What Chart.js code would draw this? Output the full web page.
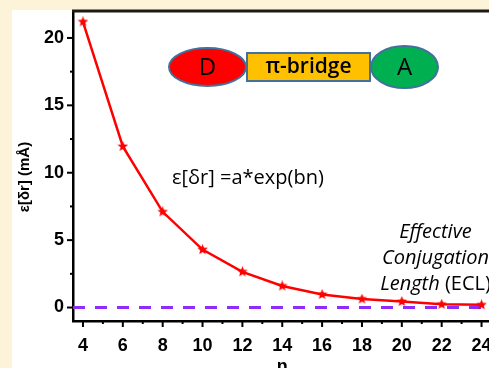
<!DOCTYPE html>
<html><head><meta charset="utf-8">
<script src="https://cdn.jsdelivr.net/npm/chart.js@4"></script>
<style>
html,body{margin:0;padding:0;overflow:hidden;background:#fdf3d8;width:489px;height:368px;}
#panel{position:absolute;left:12px;top:10px;width:477px;height:358px;background:#fff;}
#wrap{position:absolute;left:0;top:0;width:500px;height:380px;}
</style></head><body>
<div id="panel"></div>
<div id="wrap"><canvas id="c" width="500" height="380"></canvas></div>
<script>
// ---- data ----
const nValues   = [4, 6, 8, 10, 12, 14, 16, 18, 20, 22, 24];
const epsValues = [21.2, 11.95, 7.1, 4.3, 2.65, 1.6, 0.97, 0.63, 0.45, 0.24, 0.2];
const xTickValues = [4, 6, 8, 10, 12, 14, 16, 18, 20, 22, 24];
const xMinorTicks = [5, 7, 9, 11, 13, 15, 17, 19, 21, 23];
const yTickValues = [0, 5, 10, 15, 20];
const yMinorTicks = [2.5, 7.5, 12.5, 17.5];
const xRange = [3.5, 24.5];
const yRange = [-1, 22];
const baselineValue = 0;
const yTitle = 'ε[δr] (mÅ)';
const xTitle = 'n';
const formulaText = 'ε[δr] =a*exp(bn)';
const eclLines = ['Effective', 'Conjugation', 'Length'];
const eclSuffix = ' (ECL)';
const diagramLabels = ['D', 'π-bridge', 'A'];

// star marker
function makeStar(size, color) {
  const c = document.createElement('canvas');
  c.width = size; c.height = size;
  const g = c.getContext('2d');
  const cx = size / 2, cy = size / 2, R = size / 2, r = R * 0.45;
  g.beginPath();
  for (let i = 0; i < 10; i++) {
    const a = -Math.PI / 2 + i * Math.PI / 5;
    const rad = i % 2 === 0 ? R : r;
    g.lineTo(cx + rad * Math.cos(a), cy + rad * Math.sin(a));
  }
  g.closePath();
  g.fillStyle = color; g.fill();
  return c;
}
const star = makeStar(11, '#ff0000');

const decor = {
  id: 'decor',
  afterDraw(chart) {
    const ctx = chart.ctx, xs = chart.scales.x, ys = chart.scales.y, a = chart.chartArea;
    ctx.save();
    // top frame
    ctx.strokeStyle = '#1a1a1a'; ctx.lineWidth = 3;
    ctx.beginPath(); ctx.moveTo(a.left - 1, a.top); ctx.lineTo(a.right + 10, a.top); ctx.stroke();
    // ticks
    ctx.strokeStyle = '#000'; ctx.lineWidth = 2;
    const b = a.bottom, l = a.left;
    xTickValues.forEach(v => { const p = xs.getPixelForValue(v); ctx.beginPath(); ctx.moveTo(p, b); ctx.lineTo(p, b + 6); ctx.stroke(); });
    xMinorTicks.forEach(v => { const p = xs.getPixelForValue(v); ctx.beginPath(); ctx.moveTo(p, b); ctx.lineTo(p, b + 3); ctx.stroke(); });
    yTickValues.forEach(v => { const p = ys.getPixelForValue(v); ctx.beginPath(); ctx.moveTo(l, p); ctx.lineTo(l - 6, p); ctx.stroke(); });
    yMinorTicks.forEach(v => { const p = ys.getPixelForValue(v); ctx.beginPath(); ctx.moveTo(l, p); ctx.lineTo(l - 3, p); ctx.stroke(); });
    // y title
    ctx.save();
    ctx.translate(25, 177); ctx.rotate(-Math.PI / 2);
    ctx.font = 'bold 15px "Liberation Sans", Arial, sans-serif';
    ctx.fillStyle = '#000'; ctx.textAlign = 'center'; ctx.textBaseline = 'middle';
    ctx.fillText(yTitle, 0, 0);
    ctx.restore();
    // diagram
    ctx.lineWidth = 2; ctx.strokeStyle = '#41719c';
    ctx.fillStyle = '#ff0000';
    ctx.beginPath(); ctx.ellipse(207.5, 67, 38.5, 19, 0, 0, Math.PI * 2); ctx.fill(); ctx.stroke();
    ctx.fillStyle = '#00b050';
    ctx.beginPath(); ctx.ellipse(404.5, 67, 33.5, 21, 0, 0, Math.PI * 2); ctx.fill(); ctx.stroke();
    ctx.fillStyle = '#ffc000';
    ctx.fillRect(247, 53, 123, 28); ctx.strokeRect(247, 53, 123, 28);
    ctx.fillStyle = '#000'; ctx.textAlign = 'center'; ctx.textBaseline = 'middle';
    ctx.font = '500 24px "Open Sans", sans-serif';
    ctx.fillText(diagramLabels[0], 207.5, 68);
    ctx.fillText(diagramLabels[2], 404.5, 68);
    ctx.font = '600 21px "Open Sans", sans-serif';
    ctx.fillText(diagramLabels[1], 308.5, 67);
    // formula
    ctx.textAlign = 'left';
    ctx.font = '20px "Open Sans", sans-serif';
    ctx.fillText(formulaText, 172, 178);
    // ECL
    ctx.textAlign = 'center';
    const it = 'italic 20px "Open Sans", sans-serif', nf = '20px "Open Sans", sans-serif';
    ctx.font = it;
    ctx.fillText(eclLines[0], 435.5, 232);
    ctx.fillText(eclLines[1], 435.5, 258);
    const w1 = ctx.measureText(eclLines[2]).width;
    ctx.font = nf; const w2 = ctx.measureText(eclSuffix).width;
    const x0 = 435.5 - (w1 + w2) / 2;
    ctx.textAlign = 'left';
    ctx.font = it; ctx.fillText(eclLines[2], x0, 284);
    ctx.font = nf; ctx.fillText(eclSuffix, x0 + w1, 284);
    ctx.restore();
  }
};

new Chart(document.getElementById('c'), {
  type: 'line',
  data: {
    datasets: [
      {
        data: nValues.map((n, i) => ({ x: n, y: epsValues[i] })),
        borderColor: '#ff0000', backgroundColor: '#ff0000', borderWidth: 2.5,
        pointStyle: star, pointRadius: 6, tension: 0, order: 0
      },
      {
        data: xRange.map(x => ({ x: x, y: baselineValue })),
        borderColor: '#8f2bff', borderWidth: 3, borderDash: [12, 10],
        pointRadius: 0, order: 1
      }
    ]
  },
  options: {
    responsive: false, animation: false, devicePixelRatio: 1,
    layout: { padding: { left: 0, top: 11, right: 5, bottom: 0 } },
    plugins: { legend: { display: false }, tooltip: { enabled: false } },
    scales: {
      x: {
        type: 'linear', min: xRange[0], max: xRange[1],
        afterBuildTicks: s => { s.ticks = xTickValues.map(v => ({ value: v })); },
        afterFit: s => { s.height = 59; s.paddingLeft = 0; s.paddingRight = 0; },
        grid: { display: false, drawTicks: false },
        border: { display: true, color: '#000', width: 2.5 },
        ticks: { color: '#000', padding: 14, maxRotation: 0, font: { family: '"Liberation Sans", Arial, sans-serif', weight: 'bold', size: 18 } },
        title: { display: true, text: xTitle, color: '#000', padding: { top: 0, bottom: 2 }, font: { family: '"Liberation Sans", Arial, sans-serif', weight: 'bold', size: 18 } }
      },
      y: {
        type: 'linear', min: yRange[0], max: yRange[1],
        afterBuildTicks: s => { s.ticks = yTickValues.map(v => ({ value: v })); },
        afterFit: s => { s.width = 73; s.paddingTop = 0; s.paddingBottom = 0; },
        grid: { display: false, drawTicks: false },
        border: { display: true, color: '#000', width: 2.5 },
        ticks: { color: '#000', padding: 9, font: { family: '"Liberation Sans", Arial, sans-serif', weight: 'bold', size: 18 } }
      }
    }
  },
  plugins: [decor]
});
</script>
</body></html>
